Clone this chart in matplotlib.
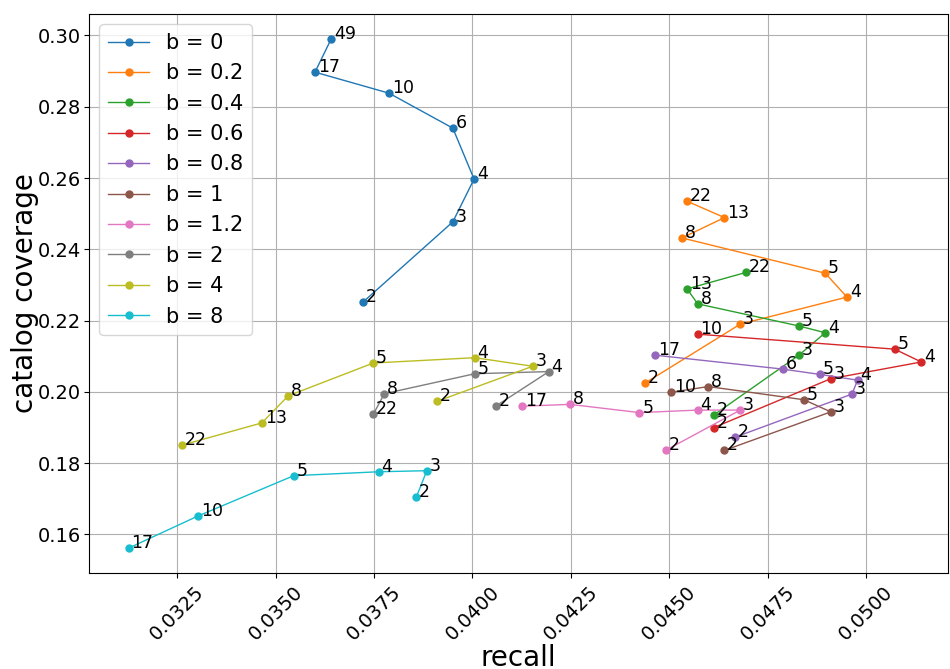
import numpy as np
import matplotlib
matplotlib.use("Agg")
import matplotlib.pyplot as plt
from matplotlib.ticker import FormatStrFormatter

# recall / catalog coverage per b, labelled by k
b_values = ["0", "0.2", "0.4", "0.6", "0.8", "1", "1.2", "2", "4", "8"]

k_b0 = [49, 17, 10, 6, 4, 3, 2]
recall_b0 = [0.03641, 0.03600, 0.03788, 0.03950, 0.04004, 0.03950, 0.03722]
cover_b0 = [0.2990, 0.2897, 0.2838, 0.2740, 0.2597, 0.2477, 0.2252]

k_b02 = [22, 13, 8, 5, 4, 3, 2]
recall_b02 = [0.04545, 0.04640, 0.04532, 0.04896, 0.04951, 0.04680, 0.04437]
cover_b02 = [0.2535, 0.2489, 0.2432, 0.2333, 0.2266, 0.2190, 0.2024]

k_b04 = [22, 13, 8, 5, 4, 3, 2]
recall_b04 = [0.04694, 0.04545, 0.04572, 0.04829, 0.04896, 0.04829, 0.04614]
cover_b04 = [0.2335, 0.2289, 0.2247, 0.2185, 0.2166, 0.2103, 0.1936]

k_b06 = [10, 5, 4, 3, 2]
recall_b06 = [0.04572, 0.05072, 0.05140, 0.04910, 0.04613]
cover_b06 = [0.2162, 0.2120, 0.2084, 0.2037, 0.1900]

k_b08 = [17, 6, 5, 4, 3, 2]
recall_b08 = [0.04464, 0.04788, 0.04883, 0.04978, 0.04964, 0.04667]
cover_b08 = [0.2103, 0.2064, 0.2049, 0.2033, 0.1994, 0.1873]

k_b1 = [10, 8, 5, 3, 2]
recall_b1 = [0.04504, 0.04599, 0.04842, 0.04910, 0.04640]
cover_b1 = [0.1999, 0.2015, 0.1978, 0.1944, 0.1836]

k_b12 = [17, 8, 5, 4, 3, 2]
recall_b12 = [0.04127, 0.04248, 0.04424, 0.04572, 0.04680, 0.04492]
cover_b12 = [0.1960, 0.1965, 0.1942, 0.1949, 0.1949, 0.1837]

k_b2 = [22, 8, 5, 4, 2]
recall_b2 = [0.03748, 0.03776, 0.04006, 0.04194, 0.04059]
cover_b2 = [0.1937, 0.1995, 0.2051, 0.2057, 0.1960]

k_b4 = [22, 13, 8, 5, 4, 3, 2]
recall_b4 = [0.03263, 0.03465, 0.03532, 0.03748, 0.04006, 0.04153, 0.03911]
cover_b4 = [0.1851, 0.1913, 0.1989, 0.2081, 0.2096, 0.2072, 0.1974]

k_b8 = [17, 10, 5, 4, 3, 2]
recall_b8 = [0.03127, 0.03303, 0.03546, 0.03762, 0.03884, 0.03857]
cover_b8 = [0.1562, 0.1652, 0.1765, 0.1776, 0.1779, 0.1704]

runs = [
    (k_b0, recall_b0, cover_b0),
    (k_b02, recall_b02, cover_b02),
    (k_b04, recall_b04, cover_b04),
    (k_b06, recall_b06, cover_b06),
    (k_b08, recall_b08, cover_b08),
    (k_b1, recall_b1, cover_b1),
    (k_b12, recall_b12, cover_b12),
    (k_b2, recall_b2, cover_b2),
    (k_b4, recall_b4, cover_b4),
    (k_b8, recall_b8, cover_b8),
]

fig = plt.figure(figsize=(9.5, 6.69), dpi=100)
ax = fig.add_axes([0.0937, 0.1435, 0.9043, 0.8355])
ax.set_axisbelow(True)
ax.grid(True, color="#b0b0b0", linewidth=0.8)

for b, (ks, rec, cov) in zip(b_values, runs):
    ax.plot(rec, cov, marker="o", markersize=5, linewidth=1, label=f"b = {b}")
    for k, xr, yc in zip(ks, rec, cov):
        ax.annotate(str(k), (xr, yc), xytext=(2, 0), textcoords="offset points",
                    fontsize=12.5)

ax.set_xlim(0.03026, 0.05208)
ax.set_ylim(0.1492, 0.3060)
ax.set_xticks(np.arange(0.0325, 0.05001, 0.0025))
ax.xaxis.set_major_formatter(FormatStrFormatter("%.4f"))
ax.yaxis.set_major_formatter(FormatStrFormatter("%.2f"))
ax.tick_params(axis="both", labelsize=14)
ax.tick_params(axis="y", pad=2.5)
plt.setp(ax.get_xticklabels(), rotation=45)

ax.set_xlabel("recall", fontsize=20, va="baseline")
ax.set_ylabel("catalog coverage", fontsize=20)
ax.xaxis.set_label_coords(0.5, -0.1664)
ax.yaxis.set_label_coords(-0.058, 0.5)
ax.legend(loc="upper left", fontsize=15)

fig.savefig("out.png", dpi=100)
